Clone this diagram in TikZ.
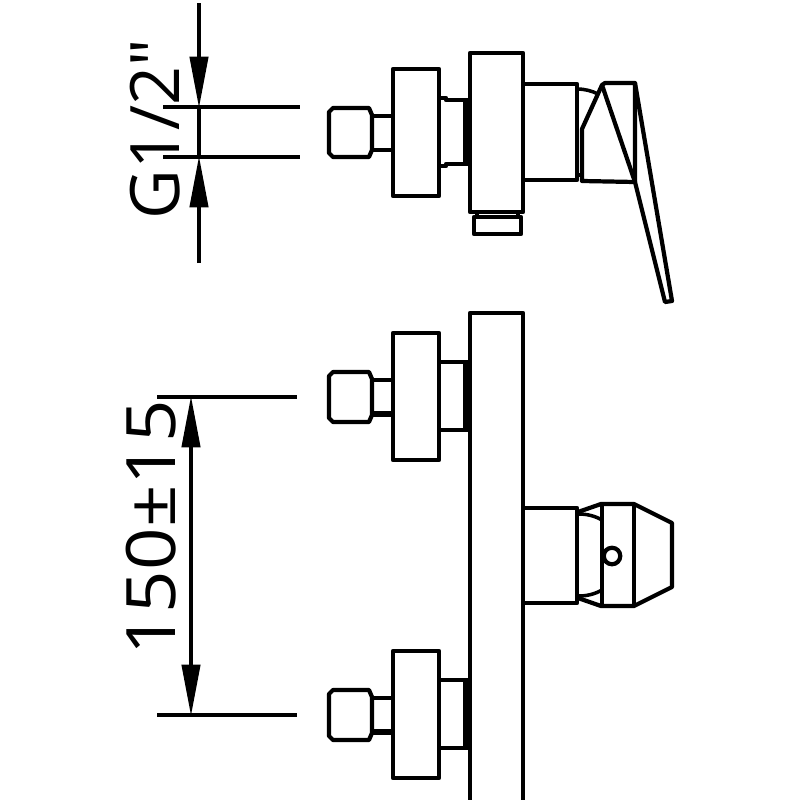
\documentclass[tikz,border=0pt]{standalone}
\usepackage{fontspec}
\setmainfont[FakeStretch=1.09]{Open Sans}
\newfontfamily\plainfont{Open Sans}
\usetikzlibrary{arrows.meta}
\begin{document}
\begin{tikzpicture}[x=0.01cm, y=-0.01cm, line join=round,
  part/.style = {draw, line width=1.2pt},
  thinpart/.style = {draw, line width=1pt},
  dimline/.style = {draw, line width=0.95pt},
  dimarrow/.style = {draw, line width=0.95pt, -{Triangle[length=14.5pt,width=5.2pt]}, shorten >=-0.2pt},
  dimtext/.style = {rotate=90, inner sep=0pt, font=\fontsize{19.4}{19.4}\selectfont}]
  \useasboundingbox (0,0) rectangle (800,800);
  % dimensions top
  \coordinate (gt) at (199,3);
  \coordinate (gu) at (199,107);
  \coordinate (gl) at (199,157);
  \coordinate (gb) at (199,263);
  \coordinate (gua) at (163,107);
  \coordinate (gub) at (300,107);
  \coordinate (gla) at (163,157);
  \coordinate (glb) at (300,157);
  \draw[dimline] (gua) -- (gub);
  \draw[dimline] (gla) -- (glb);
  \draw[dimline] (gu) -- (gl);
  \draw[dimarrow] (gt) -- (gu);
  \draw[dimarrow] (gb) -- (gl);
  \node[dimtext] (gtext) at (155,129) {\plainfont G1/2"};
  % dimensions bottom
  \coordinate (hu) at (191,397);
  \coordinate (hl) at (191,715);
  \coordinate (hm) at (191,556);
  \coordinate (hua) at (157,397);
  \coordinate (hub) at (297,397);
  \coordinate (hla) at (157,715);
  \coordinate (hlb) at (297,715);
  \draw[dimline] (hua) -- (hub);
  \draw[dimline] (hla) -- (hlb);
  \draw[dimarrow] (hm) -- (hu);
  \draw[dimarrow] (hm) -- (hl);
  \node[dimtext] (htext) at (151,528) {150±15};
  % side view
  \draw[part] (333,108) -- (369,108) -- (372,115) -- (372,150) -- (369,157) -- (333,157) -- (329,153) -- (329,112) -- cycle;
  \draw[part] (372,116) -- (393,116);
  \draw[part] (372,150) -- (393,150);
  \draw[part] (393,69) rectangle (439,196);
  \draw[part] (439,98) -- (446,98) -- (446,100) -- (468,100);
  \draw[part] (439,166) -- (446,166) -- (446,164) -- (468,164);
  \draw[part, line width=2pt] (467,100) -- (467,164);
  \draw[part] (470,53) rectangle (523,212);
  \draw[thinpart] (477,212) -- (477,217);
  \draw[thinpart] (518,212) -- (518,217);
  \draw[part] (474,217) rectangle (521,234);
  \draw[part] (523,84) -- (577,84) -- (577,180) -- (523,180);
  \draw[thinpart] (577,89) .. controls (585,89) and (592,91) .. (598,94);
  \draw[part] (582,181) -- (582,129) -- (602,85) -- (605,83) -- (635,83) -- (635,182) -- cycle;
  \draw[part] (602,85) -- (635,182);
  \draw[thinpart] (577,175) -- (582,175);
  \draw[part] (635,83) -- (672,301) -- (665,302) -- (635,182);
  % front view
  \draw[part] (470,800) -- (470,313) -- (523,313) -- (523,800);
  \foreach \oy in {0,318} {
    \begin{scope}[yshift=-\oy*0.01cm]
      \draw[part] (333,372) -- (369,372) -- (372,379) -- (372,415) -- (369,422) -- (333,422) -- (329,418) -- (329,376) -- cycle;
      \draw[part] (372,380) -- (393,380);
      \draw[part, line width=1.6pt] (372,414) -- (393,414);
      \draw[part] (393,333) rectangle (439,460);
      \draw[part] (439,362) -- (468,362);
      \draw[part] (439,430) -- (468,430);
      \draw[part, line width=2pt] (467,362) -- (467,430);
    \end{scope}
  }
  \draw[part] (523,508) -- (577,508) -- (577,603) -- (523,603);
  \draw[part] (578,512) -- (601,504) -- (634,504) -- (672,523) -- (672,587) -- (634,606) -- (601,606) -- (578,598);
  \draw[part] (602,504) -- (602,606);
  \draw[part] (634,504) -- (634,606);
  \draw[thinpart] (579,514) .. controls (587,514) and (595,516) .. (602,520);
  \draw[thinpart] (579,596) .. controls (587,596) and (595,594) .. (602,590);
  \node[part, circle, fill=white, minimum size=0.165cm, inner sep=0pt] (hole) at (612,556) {};
\end{tikzpicture}
\end{document}
